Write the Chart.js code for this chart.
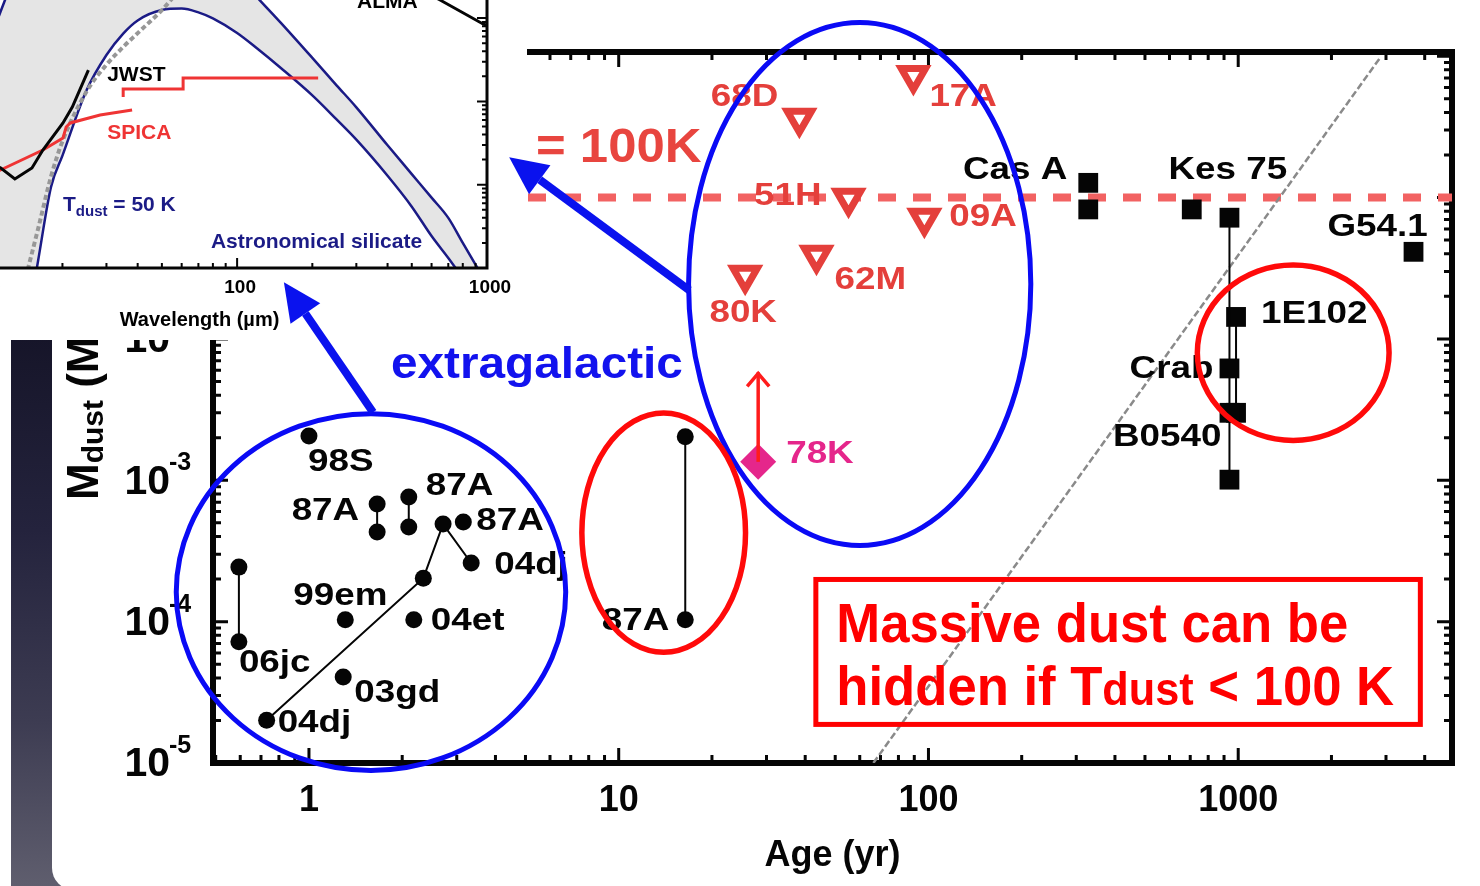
<!DOCTYPE html>
<html>
<head>
<meta charset="utf-8">
<title>Dust mass vs. supernova age</title>
<script src="https://cdn.jsdelivr.net/npm/chart.js@4.4.1/dist/chart.umd.min.js"></script>
<style>
  html, body { margin: 0; padding: 0; background: #fff; }
  #stage { position: relative; width: 1480px; height: 886px; overflow: hidden; background: #fff; }
  #strip { position: absolute; left: 11px; top: 338px; width: 70px; height: 548px; z-index: 0;
           background: linear-gradient(to bottom, #161529 0%, #24233d 35%, #3d3c52 70%, #5f5e6e 100%); }
  #card { position: absolute; left: 52px; top: -40px; width: 1460px; height: 930px; background: #fff; border-radius: 22px; z-index: 1; }
  #mainChart { position: absolute; left: 0; top: 0; z-index: 2; }
  #insetBox { position: absolute; left: 0; top: 0; width: 527px; height: 340px; overflow: hidden; background: #fff; z-index: 3; }
  #insetChart { position: absolute; left: -100px; top: -160px; }
  #overlay { position: absolute; left: 0; top: 0; z-index: 4; }
</style>
</head>
<body>
<div id="stage">
  <div id="strip"></div>
  <div id="card"></div>
  <canvas id="mainChart" width="1480" height="886"></canvas>
  <div id="insetBox"><canvas id="insetChart" width="627" height="500"></canvas></div>
  <canvas id="overlay" width="1480" height="886"></canvas>
</div>
<script>
const FONT = '"Liberation Sans", Arial, Helvetica, sans-serif';

/* ================= Main panel: dust mass vs. age ================= */
const AGE_MIN = 0.49, AGE_MAX = 4900;
const MASS_MIN = 1e-5, MASS_MAX = 1.07;
const ageTicks = [1, 10, 100, 1000];
const ageTickLabels = ['1', '10', '100', '1000'];
const massTickExponents = [-5, -4, -3, -2, -1, 0];

// Extragalactic supernovae, single epochs
const snNames  = ['98S', '99em', '04et', '03gd', '87A'];
const snAges   = [1.0, 1.31, 2.18, 1.29, 3.15];
const snMasses = [2.06e-3, 1.03e-4, 1.03e-4, 4.06e-5, 5.06e-4];

// Objects with several estimates, joined by a line
const sn87A_aAges = [1.66, 1.66],   sn87A_aMasses = [6.8e-4, 4.3e-4];
const sn87A_bAges = [2.10, 2.10],   sn87A_bMasses = [7.6e-4, 4.67e-4];
const sn87A_cAges = [16.4, 16.4],   sn87A_cMasses = [2.03e-3, 1.03e-4];
const sn06jcAges  = [0.594, 0.594], sn06jcMasses  = [2.43e-4, 7.2e-5];
const sn04djAges  = [0.73, 2.34, 2.71, 3.34];
const sn04djMasses = [2.01e-5, 2.03e-4, 4.9e-4, 2.6e-4];

// Galactic remnants (filled squares)
const snrNames  = ['Cas A', 'Cas A', 'Kes 75', 'G54.1', 'B0540'];
const snrAges   = [328, 328, 708, 3681, 937];
const snrMasses = [0.127, 0.0824, 0.0824, 0.0413, 3.0e-3];
const crabAges  = [937, 937, 937],  crabMasses  = [0.072, 6.18e-3, 1.01e-3];
const e0102Ages = [984, 984],       e0102Masses = [0.0143, 3.0e-3];

// Upper limits from cold-dust searches (open triangles)
const limitNames  = ['68D', '17A', '51H', '09A', '62M', '80K'];
const limitAges   = [38.3, 89.4, 55.2, 97, 43.5, 25.6];
const limitMasses = [0.364, 0.73, 0.099, 0.0714, 0.039, 0.0282];

// Lower limit (diamond with arrow)
const lowerNames   = ['78K'];
const lowerAges    = [28.2];
const lowerMasses  = [1.35e-3];
const lowerArrowTo = [5.8e-3];

// Reference lines
const tdustLineAges   = [AGE_MIN, AGE_MAX];
const tdustLineMasses = [0.1, 0.1];
const growthAges   = [66.4, 2865];
const growthMasses = [1e-5, 0.968];

// Annotation anchors in data units [age, mass]
const extragalacticAt = [1.84, 5.28e-3];
const tdustTextAt     = [18.5, 0.223];
const noteBox         = [42.5, 3945, 1.8e-5, 2.07e-4];   // age lo/hi, mass lo/hi
const noteLine1At     = [50.4, 7.18e-5];
const noteLine2At     = [50.4, 2.57e-5];
const blueRing1 = [0.366, 6.87, 8.5e-6, 3.08e-3];
const blueRing2 = [16.5, 218, 3.32e-4, 1.80];
const redRing1  = [7.45, 26.2, 5.8e-5, 3.13e-3];
const redRing2  = [723, 3133, 1.83e-3, 0.0349];
const insetArrow1 = [[1.61, 3.03e-3], [0.83, 0.0252]];
const insetArrow2 = [[16.9, 0.0221], [4.43, 0.193]];

/* ================= Inset: 50 K silicate SED ================= */
const WL_MIN = 5, WL_MAX = 1000, FLUX_MIN = 1e-3, FLUX_MAX = 100;
const wlTicks = [10, 100, 1000];
const wlTickLabels = ['10', '100', '1000'];
const wlGrid  = [8, 10, 12, 14, 16, 18, 20, 25, 30, 35, 40, 50, 60, 70, 80, 100, 120, 150, 200, 250, 300, 400, 500, 600, 700, 800, 1000];
const sedHigh = [0.079, 0.45, 1.89, 5.7, 11.4, 18.8, 26.2, 39.7, 43, 40.7, 36.5, 24.8, 15.9, 10.2, 6.8, 3.3, 1.79, 0.871, 0.333, 0.156, 0.0849, 0.0297, 0.0134, 7.0e-3, 4.0e-3, 2.0e-3, 6.4e-4];
const sedLow  = [1e-7, 1e-6, 1e-5, 1.2e-4, 1.25e-3, 9.4e-3, 0.0223, 0.137, 0.361, 0.652, 0.938, 1.25, 1.30, 1.17, 0.99, 0.662, 0.434, 0.25, 0.118, 0.0607, 0.0347, 0.0128, 5.45e-3, 2.42e-3, 1.32e-3, 7.6e-4, 3.1e-4];
const warmWl   = [14, 16, 18, 20, 25, 30, 35, 40, 50, 60, 80];
const warmFlux = [6.2e-4, 3.0e-3, 0.0125, 0.0332, 0.132, 0.276, 0.45, 0.66, 1.25, 2.3, 5.0];
const jwstWl   = [9.4, 11.3, 12.9, 15.1, 16.7, 20.1, 21.9, 25.4];
const jwstFlux = [0.0198, 0.0159, 0.0117, 0.0159, 0.0261, 0.0551, 0.0857, 0.238];
const spicaWl   = [9.4, 11.3, 16.7, 20.1, 20.7, 21.5, 28.3, 38.0];
const spicaFlux = [0.0114, 0.015, 0.0261, 0.0364, 0.0493, 0.0551, 0.0687, 0.0789];
const spicaFirWl   = [35.0, 60.8, 110.7, 211];
const spicaFirFlux = [0.113, 0.141, 0.191, 0.191];
const almaWl   = [540, 649, 964, 1000];
const almaFlux = [2.2, 1.65, 0.85, 0.82];
const jwstTextAt     = [30.2, 0.207];
const spicaTextAt    = [30.2, 0.0418];
const tdustInsetAt   = [20.1, 5.7e-3];
const silicateTextAt = [550, 2.05e-3];
const almaTextAt     = [302, 1.32];

/* ================= helpers ================= */
const zip = (xs, ys) => xs.map((x, i) => ({ x, y: ys[i] }));

// Draw runs of bold text (different sizes / vertical offsets) in one go.
function textRuns(ctx, runs, x, y, opt = {}) {
  const sx = opt.sx || 1;
  ctx.save();
  ctx.translate(x, y);
  if (opt.rotate) ctx.rotate(opt.rotate);
  ctx.textBaseline = opt.baseline || 'middle';
  ctx.textAlign = 'left';
  ctx.fillStyle = opt.color || '#000';
  const widths = runs.map(r => { ctx.font = `bold ${r.size}px ${FONT}`; return ctx.measureText(r.t).width * sx; });
  const total = widths.reduce((a, b) => a + b, 0);
  let cx = opt.align === 'right' ? -total : opt.align === 'center' ? -total / 2 : 0;
  runs.forEach((r, i) => {
    ctx.font = `bold ${r.size}px ${FONT}`;
    ctx.save();
    ctx.translate(cx, r.dy || 0);
    ctx.scale(sx, 1);
    ctx.fillText(r.t, 0, 0);
    ctx.restore();
    cx += widths[i];
  });
  ctx.restore();
}
const text = (ctx, t, x, y, size, opt = {}) => textRuns(ctx, [{ t, size }], x, y, opt);

function logTicks(min, max) {
  const out = [];
  for (let e = Math.floor(Math.log10(min)); e <= Math.ceil(Math.log10(max)); e++) {
    for (let m = 1; m < 10; m++) {
      const v = m * Math.pow(10, e);
      if (v > min * 1.0001 && v < max / 1.0001) out.push({ v, major: m === 1 });
    }
  }
  return out;
}

// Box with inward-pointing log ticks on all four sides.
function drawFrame(chart, o) {
  const { ctx, chartArea: a, scales: { x: xs, y: ys } } = chart;
  ctx.save();
  ctx.strokeStyle = '#050505';
  ctx.lineWidth = o.tickWidth;
  ctx.beginPath();
  for (const t of logTicks(xs.min, xs.max)) {
    const x = xs.getPixelForValue(t.v), L = t.major ? o.major : o.minor;
    ctx.moveTo(x, a.bottom); ctx.lineTo(x, a.bottom - L);
    ctx.moveTo(x, a.top);    ctx.lineTo(x, a.top + L);
  }
  for (const t of logTicks(ys.min, ys.max)) {
    const y = ys.getPixelForValue(t.v), L = t.major ? o.major : o.minor;
    ctx.moveTo(a.left, y);  ctx.lineTo(a.left + L, y);
    ctx.moveTo(a.right, y); ctx.lineTo(a.right - L, y);
  }
  ctx.stroke();
  ctx.lineWidth = o.frameWidth;
  ctx.strokeRect(a.left, a.top, a.right - a.left, a.bottom - a.top);
  ctx.restore();
}

function arrow(ctx, x0, y0, x1, y1, lw, headLen, headHalf, color) {
  const ang = Math.atan2(y1 - y0, x1 - x0);
  const bx = x1 - headLen * Math.cos(ang), by = y1 - headLen * Math.sin(ang);
  ctx.save();
  ctx.strokeStyle = color; ctx.fillStyle = color; ctx.lineWidth = lw;
  ctx.beginPath(); ctx.moveTo(x0, y0); ctx.lineTo(bx, by); ctx.stroke();
  ctx.beginPath();
  ctx.moveTo(x1, y1);
  ctx.lineTo(bx + headHalf * Math.sin(ang), by - headHalf * Math.cos(ang));
  ctx.lineTo(bx - headHalf * Math.sin(ang), by + headHalf * Math.cos(ang));
  ctx.closePath(); ctx.fill();
  ctx.restore();
}

/* ================= main chart ================= */
const BLACK = '#050505', LIMIT_RED = '#e43f3b', PINK = '#e5268b';
const dotStyle  = { pointStyle: 'circle', pointRadius: 8.5, pointBorderWidth: 0, backgroundColor: BLACK, borderColor: BLACK, borderWidth: 2 };
const rectStyle = { pointStyle: 'rect', pointRadius: 14, pointBorderWidth: 0, backgroundColor: BLACK, borderColor: BLACK, borderWidth: 2 };

const mainData = {
  datasets: [
    { label: 'tdust100', data: zip(tdustLineAges, tdustLineMasses), showLine: true, pointRadius: 0,
      borderColor: '#f26262', borderWidth: 8, borderDash: [18, 17], order: 20 },
    { label: 'growth', data: zip(growthAges, growthMasses), showLine: true, pointRadius: 0,
      borderColor: '#8a8a8a', borderWidth: 2.5, borderDash: [7, 3], order: 19 },
    { label: 'sn', data: zip(snAges, snMasses), showLine: false, ...dotStyle },
    { label: '87A-a', data: zip(sn87A_aAges, sn87A_aMasses), showLine: true, ...dotStyle },
    { label: '87A-b', data: zip(sn87A_bAges, sn87A_bMasses), showLine: true, ...dotStyle },
    { label: '87A-c', data: zip(sn87A_cAges, sn87A_cMasses), showLine: true, ...dotStyle },
    { label: '06jc', data: zip(sn06jcAges, sn06jcMasses), showLine: true, ...dotStyle },
    { label: '04dj', data: zip(sn04djAges, sn04djMasses), showLine: true, ...dotStyle },
    { label: 'snr', data: zip(snrAges, snrMasses), showLine: false, ...rectStyle },
    { label: 'crab', data: zip(crabAges, crabMasses), showLine: true, ...rectStyle },
    { label: '1E0102', data: zip(e0102Ages, e0102Masses), showLine: true, ...rectStyle },
    { label: 'limits', data: zip(limitAges, limitMasses), showLine: false, pointStyle: 'triangle',
      pointRotation: 180, pointRadius: 14, pointBorderWidth: 7, pointBorderColor: LIMIT_RED,
      pointBackgroundColor: '#ffffff', borderColor: LIMIT_RED },
    { label: 'lower', data: zip(lowerAges, lowerMasses), showLine: false, pointStyle: 'rectRot',
      pointRadius: 18, pointBorderWidth: 0, backgroundColor: PINK, borderColor: PINK }
  ]
};

// Point labels: [ages, masses, index, text, dx, dy, align, color]
const pointLabels = [
  [snAges, snMasses, 0, '98S', -1, 26, 'left', BLACK],
  [snAges, snMasses, 1, '99em', -5, -24, 'center', BLACK],
  [snAges, snMasses, 2, '04et', 17, 1, 'left', BLACK],
  [snAges, snMasses, 3, '03gd', 11, 16, 'left', BLACK],
  [snAges, snMasses, 4, '87A', 13, -1, 'left', BLACK],
  [sn87A_aAges, sn87A_aMasses, 0, '87A', -18, 7, 'right', BLACK],
  [sn87A_bAges, sn87A_bMasses, 0, '87A', 17, -11, 'left', BLACK],
  [sn87A_cAges, sn87A_cMasses, 1, '87A', -16, 1, 'right', BLACK],
  [sn04djAges, sn04djMasses, 3, '04dj', 23, 2, 'left', BLACK],
  [sn04djAges, sn04djMasses, 0, '04dj', 11, 3, 'left', BLACK],
  [sn06jcAges, sn06jcMasses, 1, '06jc', 0, 21, 'left', BLACK],
  [snrAges, snrMasses, 0, 'Cas A', -21, -13, 'right', BLACK],
  [snrAges, snrMasses, 2, 'Kes 75', 36, -39, 'center', BLACK],
  [snrAges, snrMasses, 3, 'G54.1', -36, -25, 'center', BLACK],
  [snrAges, snrMasses, 4, 'B0540', -8, 24, 'right', BLACK],
  [crabAges, crabMasses, 1, 'Crab', -16, 1, 'right', BLACK],
  [e0102Ages, e0102Masses, 0, '1E102', 25, -3, 'left', BLACK],
  [limitAges, limitMasses, 0, limitNames[0], -21, -21, 'right', LIMIT_RED],
  [limitAges, limitMasses, 1, limitNames[1], 16, 22, 'left', LIMIT_RED],
  [limitAges, limitMasses, 2, limitNames[2], -27, -2, 'right', LIMIT_RED],
  [limitAges, limitMasses, 3, limitNames[3], 25, -1, 'left', LIMIT_RED],
  [limitAges, limitMasses, 4, limitNames[4], 18, 25, 'left', LIMIT_RED],
  [limitAges, limitMasses, 5, limitNames[5], -2, 38, 'center', LIMIT_RED],
  [lowerAges, lowerMasses, 0, lowerNames[0], 28, -8, 'left', PINK]
];

const mainDecor = {
  id: 'mainDecor',
  beforeDatasetsDraw(chart) {
    drawFrame(chart, { major: 15, minor: 8, tickWidth: 3, frameWidth: 6 });
  },
  afterDatasetsDraw(chart) {
    const { ctx, chartArea: a, scales: { x: xs, y: ys } } = chart;
    const X = v => xs.getPixelForValue(v), Y = v => ys.getPixelForValue(v);

    // lower-limit arrow on the diamond
    lowerAges.forEach((age, i) => {
      const x = X(age), y0 = Y(lowerMasses[i]), y1 = Y(lowerArrowTo[i]);
      ctx.save();
      ctx.strokeStyle = '#ff1c1c'; ctx.lineWidth = 3.5; ctx.lineJoin = 'miter';
      ctx.beginPath(); ctx.moveTo(x, y0); ctx.lineTo(x, y1); ctx.stroke();
      ctx.beginPath(); ctx.moveTo(x - 11, y1 + 14); ctx.lineTo(x, y1 + 1); ctx.lineTo(x + 11, y1 + 14); ctx.stroke();
      ctx.restore();
    });

    // point labels
    for (const [ages, masses, i, t, dx, dy, align, color] of pointLabels) {
      text(ctx, t, X(ages[i]) + dx, Y(masses[i]) + dy, 32, { sx: 1.15, align, color });
    }

    // tick labels
    ageTicks.forEach((v, i) => text(ctx, ageTickLabels[i], X(v), a.bottom + 38, 36, { align: 'center', color: BLACK }));
    massTickExponents.forEach(e => {
      const y = Y(Math.pow(10, e));
      text(ctx, '10', a.left - 43, y + 2, 41, { align: 'right', color: BLACK });
      text(ctx, '-' + Math.abs(e), a.left - 44, y - 17, 25, { align: 'left', color: BLACK });
    });

    // axis titles
    text(ctx, 'Age (yr)', (a.left + a.right) / 2, a.bottom + 93, 36, { align: 'center', color: BLACK });
    textRuns(ctx, [
      { t: 'M', size: 44 }, { t: 'dust', size: 30, dy: 9 }, { t: ' (M', size: 44 },
      { t: '\u2299', size: 26, dy: 9 }, { t: ')', size: 44 }
    ], 86, 500, { rotate: -Math.PI / 2, color: BLACK });
  },
  afterDraw(chart) {
    const { ctx, scales: { x: xs, y: ys } } = chart;
    const X = v => xs.getPixelForValue(v), Y = v => ys.getPixelForValue(v);

    const ring = (b, color, lw) => {
      const x0 = X(b[0]), x1 = X(b[1]), y0 = Y(b[3]), y1 = Y(b[2]);
      ctx.save();
      ctx.strokeStyle = color; ctx.lineWidth = lw;
      ctx.beginPath();
      ctx.ellipse((x0 + x1) / 2, (y0 + y1) / 2, (x1 - x0) / 2 - lw / 2, (y1 - y0) / 2 - lw / 2, 0, 0, Math.PI * 2);
      ctx.stroke();
      ctx.restore();
    };
    ring(blueRing1, '#0a0af5', 5);
    ring(blueRing2, '#0a0af5', 5);
    ring(redRing1, '#ff0a0a', 5.5);
    ring(redRing2, '#ff0a0a', 5.5);

    // "T_dust = 100K" beside the dashed reference line (its start sits under the inset)
    textRuns(ctx, [{ t: 'T', size: 48 }, { t: 'dust', size: 32, dy: 10 }, { t: '    = 100K', size: 48 }],
      X(tdustTextAt[0]), Y(tdustTextAt[1]), { align: 'right', color: '#e8453f', sx: 1.06 });

    text(ctx, 'extragalactic', X(extragalacticAt[0]), Y(extragalacticAt[1]), 44,
      { baseline: 'alphabetic', color: '#1212ee', sx: 1.085 });

    // note box
    const bx0 = X(noteBox[0]), bx1 = X(noteBox[1]), by0 = Y(noteBox[3]), by1 = Y(noteBox[2]);
    ctx.save();
    ctx.strokeStyle = '#ff0000'; ctx.lineWidth = 5;
    ctx.strokeRect(bx0 + 2.5, by0 + 2.5, bx1 - bx0 - 5, by1 - by0 - 5);
    ctx.restore();
    text(ctx, 'Massive dust can be', X(noteLine1At[0]), Y(noteLine1At[1]), 56,
      { baseline: 'alphabetic', color: '#ff0000', sx: 0.94 });
    textRuns(ctx, [{ t: 'hidden if T', size: 56 }, { t: 'dust', size: 46 }, { t: ' < 100 K', size: 56 }],
      X(noteLine2At[0]), Y(noteLine2At[1]), { baseline: 'alphabetic', color: '#ff0000', sx: 0.94 });

    // arrows pointing into the inset (drawn above it)
    const ov = document.getElementById('overlay').getContext('2d');
    ov.clearRect(0, 0, ov.canvas.width, ov.canvas.height);
    for (const [from, to] of [insetArrow1, insetArrow2]) {
      arrow(ov, X(from[0]), Y(from[1]), X(to[0]), Y(to[1]), 8, 38, 18, '#0a12ee');
    }
  }
};

Chart.defaults.font.family = FONT;

new Chart(document.getElementById('mainChart'), {
  type: 'scatter',
  data: mainData,
  options: {
    responsive: false, animation: false, devicePixelRatio: 1,
    layout: { padding: { left: 213, top: 52, right: 28, bottom: 123 } },
    scales: {
      x: { type: 'logarithmic', min: AGE_MIN, max: AGE_MAX, display: false },
      y: { type: 'logarithmic', min: MASS_MIN, max: MASS_MAX, display: false }
    },
    plugins: { legend: { display: false }, tooltip: { enabled: false } }
  },
  plugins: [mainDecor]
});

/* ================= inset chart ================= */
const NAVY = '#1b1b86', SPICA_RED = '#ef3434';
const curve = { showLine: true, pointRadius: 0, cubicInterpolationMode: 'monotone' };

const insetDecor = {
  id: 'insetDecor',
  beforeDraw(chart) {
    const { ctx } = chart;
    ctx.save(); ctx.fillStyle = '#fff'; ctx.fillRect(0, 0, chart.width, chart.height); ctx.restore();
  },
  afterDatasetsDraw(chart) {
    const { ctx, chartArea: a, scales: { x: xs, y: ys } } = chart;
    const X = v => xs.getPixelForValue(v), Y = v => ys.getPixelForValue(v);
    drawFrame(chart, { major: 10, minor: 5, tickWidth: 2, frameWidth: 3 });
    wlTicks.forEach((v, i) => text(ctx, wlTickLabels[i], X(v) + 3, a.bottom + 20, 19, { align: 'center' }));
    text(ctx, 'Wavelength (\u00b5m)', (a.left + a.right) / 2, a.bottom + 52, 20, { align: 'center' });
    text(ctx, 'JWST', X(jwstTextAt[0]), Y(jwstTextAt[1]), 21, {});
    text(ctx, 'SPICA', X(spicaTextAt[0]), Y(spicaTextAt[1]), 21, { color: SPICA_RED });
    textRuns(ctx, [{ t: 'T', size: 21 }, { t: 'dust', size: 15, dy: 7 }, { t: ' = 50 K', size: 21 }],
      X(tdustInsetAt[0]), Y(tdustInsetAt[1]), { color: NAVY });
    text(ctx, 'Astronomical silicate', X(silicateTextAt[0]), Y(silicateTextAt[1]), 21, { align: 'right', color: NAVY });
    text(ctx, 'ALMA', X(almaTextAt[0]), Y(almaTextAt[1]), 21, { baseline: 'alphabetic' });
  }
};

new Chart(document.getElementById('insetChart'), {
  type: 'scatter',
  data: {
    datasets: [
      { label: 'upper', data: zip(wlGrid, sedHigh), ...curve, borderColor: NAVY, borderWidth: 2.5,
        fill: '+1', backgroundColor: '#e5e5e5', order: 11 },
      { label: 'lower', data: zip(wlGrid, sedLow), ...curve, borderColor: NAVY, borderWidth: 2.5, fill: false, order: 10 },
      { label: 'warm', data: zip(warmWl, warmFlux), ...curve, borderColor: '#979797', borderWidth: 4,
        borderDash: [5, 3], fill: false, order: 5 },
      { label: 'spica', data: zip(spicaWl, spicaFlux), showLine: true, pointRadius: 0, borderColor: SPICA_RED,
        borderWidth: 3, fill: false, order: 3 },
      { label: 'spicaFir', data: zip(spicaFirWl, spicaFirFlux), showLine: true, stepped: 'after', pointRadius: 0,
        borderColor: SPICA_RED, borderWidth: 3, fill: false, order: 3 },
      { label: 'jwst', data: zip(jwstWl, jwstFlux), showLine: true, pointRadius: 0, borderColor: BLACK,
        borderWidth: 3, fill: false, order: 1 },
      { label: 'alma', data: zip(almaWl, almaFlux), showLine: true, pointRadius: 0, borderColor: BLACK,
        borderWidth: 3, fill: false, order: 1 }
    ]
  },
  options: {
    responsive: false, animation: false, devicePixelRatio: 1,
    layout: { padding: { left: 12, top: 11.5, right: 40, bottom: 72 } },
    scales: {
      x: { type: 'logarithmic', min: WL_MIN, max: WL_MAX, display: false },
      y: { type: 'logarithmic', min: FLUX_MIN, max: FLUX_MAX, display: false }
    },
    plugins: { legend: { display: false }, tooltip: { enabled: false } }
  },
  plugins: [insetDecor]
});
</script>
</body>
</html>
